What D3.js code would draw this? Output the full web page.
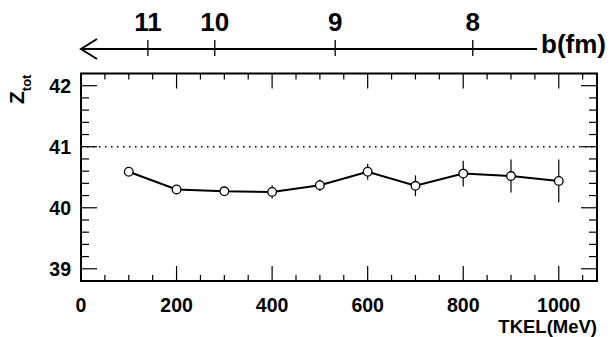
<!DOCTYPE html>
<html lang="en">
<head>
<meta charset="UTF-8">
<title>Z_tot vs TKEL</title>
<script src="https://d3js.org/d3.v7.min.js"></script>
<style>
  body { margin: 0; background: #fff; }
  text { font-family: "Liberation Sans", Arial, Helvetica, sans-serif; font-weight: bold; fill: #000; }
</style>
</head>
<body>
<svg width="611" height="337"></svg>
<script>
// data
const tkel = [100, 200, 300, 400, 500, 600, 700, 800, 900, 1000];
const ztot = [40.59, 40.30, 40.27, 40.26, 40.37, 40.59, 40.36, 40.56, 40.52, 40.44];
const zerr = [0.03, 0.04, 0.06, 0.11, 0.095, 0.13, 0.17, 0.21, 0.27, 0.35];

const xTicks = [0, 200, 400, 600, 800, 1000];
const yTicks = [39, 40, 41, 42];
// impact parameter axis: b value and the TKEL it sits above
const bLabels = [11, 10, 9, 8];
const bAtTkel = [140, 280, 532, 820];
const refLine = 41;

const svg = d3.select('svg');

const x = d3.scaleLinear().domain([0, 1080]).range([81, 597]);
const y = d3.scaleLinear().domain([38.8, 42.2]).range([281, 73.5]);

const pLeft = x.range()[0], pRight = x.range()[1];
const pTop = y.range()[1], pBottom = y.range()[0];

// minor/major ticks on all four sides
const xMinor = d3.range(0, 1080, 50);
const yMinor = d3.range(38.8, 42.21, 0.2).map(v => +v.toFixed(1));

const ticks = svg.append('g').attr('stroke', '#000');
xMinor.forEach(v => {
  const len = v % 200 === 0 ? 15 : 6;
  ticks.append('line').attr('x1', x(v)).attr('x2', x(v))
    .attr('y1', pBottom).attr('y2', pBottom - len).attr('stroke-width', 1.2);
  ticks.append('line').attr('x1', x(v)).attr('x2', x(v))
    .attr('y1', pTop).attr('y2', pTop + len).attr('stroke-width', 1.2);
});
yMinor.forEach(v => {
  const major = Math.abs(v - Math.round(v)) < 1e-6;
  const len = major ? 16 : 8;
  ticks.append('line').attr('x1', pLeft).attr('x2', pLeft + len)
    .attr('y1', y(v)).attr('y2', y(v)).attr('stroke-width', 1.2);
  ticks.append('line').attr('x1', pRight).attr('x2', pRight - len)
    .attr('y1', y(v)).attr('y2', y(v)).attr('stroke-width', 1.2);
});

// dotted reference line
svg.append('line')
  .attr('x1', pLeft).attr('x2', pRight)
  .attr('y1', y(refLine)).attr('y2', y(refLine))
  .attr('stroke', '#000').attr('stroke-width', 1.3)
  .attr('stroke-dasharray', '1.5,4.5');

// frame
svg.append('rect')
  .attr('x', pLeft).attr('y', pTop)
  .attr('width', pRight - pLeft).attr('height', pBottom - pTop)
  .attr('fill', 'none').attr('stroke', '#000').attr('stroke-width', 2);

// tick labels
svg.append('g').selectAll('text').data(xTicks).join('text')
  .attr('x', d => x(d)).attr('y', 312)
  .attr('text-anchor', 'middle').attr('font-size', 19.5)
  .text(d => d);

svg.append('g').selectAll('text').data(yTicks).join('text')
  .attr('x', 71).attr('y', d => y(d) + 7)
  .attr('text-anchor', 'end').attr('font-size', 19.5)
  .text(d => d);

svg.append('text')
  .attr('x', 597).attr('y', 333)
  .attr('text-anchor', 'end').attr('font-size', 18.5)
  .text('TKEL(MeV)');

// y title
const yt = svg.append('text')
  .attr('transform', 'translate(24,104) rotate(-90)')
  .attr('font-size', 21);
yt.append('tspan').text('Z');
yt.append('tspan').attr('font-size', 13).attr('dy', 7).text('tot');

// data: error bars, line, markers
const pts = tkel.map((t, i) => ({ t, z: ztot[i], e: zerr[i] }));

svg.append('g').selectAll('line').data(pts).join('line')
  .attr('x1', d => x(d.t)).attr('x2', d => x(d.t))
  .attr('y1', d => y(d.z - d.e)).attr('y2', d => y(d.z + d.e))
  .attr('stroke', '#000').attr('stroke-width', 1.2);

svg.append('path')
  .datum(pts)
  .attr('d', d3.line().x(d => x(d.t)).y(d => y(d.z)))
  .attr('fill', 'none').attr('stroke', '#000').attr('stroke-width', 2);

svg.append('g').selectAll('circle').data(pts).join('circle')
  .attr('cx', d => x(d.t)).attr('cy', d => y(d.z)).attr('r', 4.3)
  .attr('fill', '#fff').attr('stroke', '#000').attr('stroke-width', 1.3);

// b(fm) arrow axis on top
const arrowY = 49;
const bx0 = x(0), bx1 = 537;
const bg = svg.append('g').attr('stroke', '#000').attr('fill', 'none');
bg.append('line').attr('x1', bx0).attr('x2', bx1)
  .attr('y1', arrowY).attr('y2', arrowY).attr('stroke-width', 2);
bg.append('path')
  .attr('d', `M${bx0 + 16},${arrowY - 10} L${bx0},${arrowY} L${bx0 + 16},${arrowY + 10}`)
  .attr('stroke-width', 2);
bAtTkel.forEach(v => {
  bg.append('line').attr('x1', x(v)).attr('x2', x(v))
    .attr('y1', arrowY - 9).attr('y2', arrowY + 7).attr('stroke-width', 1.3);
});

svg.append('g').selectAll('text').data(bLabels).join('text')
  .attr('x', (d, i) => x(bAtTkel[i])).attr('y', 31)
  .attr('text-anchor', 'middle').attr('font-size', 26)
  .text(d => d);

svg.append('text')
  .attr('x', 541).attr('y', 53)
  .attr('font-size', 26)
  .text('b(fm)');
</script>
</body>
</html>
